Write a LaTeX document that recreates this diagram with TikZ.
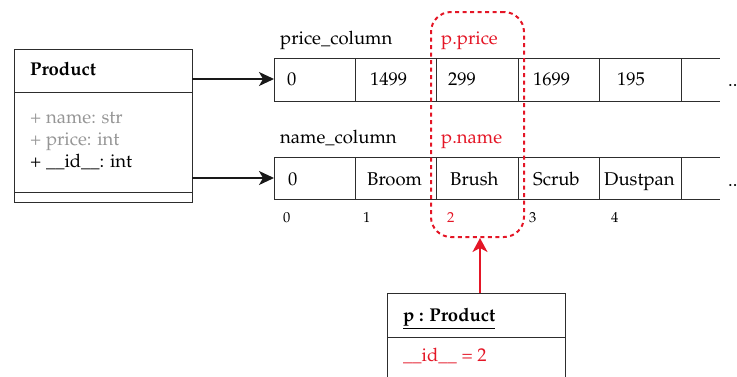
\documentclass[tikz,border=0pt]{standalone}
\usepackage[T1]{fontenc}
\usepackage{mathpazo}
\usetikzlibrary{arrows.meta}
\definecolor{accent}{RGB}{228,22,38}
\definecolor{muted}{RGB}{150,150,150}
\definecolor{edge}{RGB}{45,45,45}
\tikzset{
  txt/.style={inner sep=0pt, anchor=base west, font=\fontsize{18.5}{22}\selectfont},
  bold/.style={txt, font=\fontsize{18.5}{22}\selectfont\bfseries},
  idx/.style={inner sep=0pt, anchor=base west, font=\fontsize{14.5}{17}\selectfont},
  box/.style={draw=edge, line width=1pt, inner sep=0pt, outer sep=0pt},
  cell/.style={box, anchor=north west, minimum width=81.4pt},
  rule/.style={draw=edge, line width=1pt},
  link/.style={draw=black!90, line width=1.4pt, -{Stealth[length=15pt,width=14pt,inset=4pt]}},
  pick/.style={draw=accent, line width=2pt, dash pattern=on 4pt off 3.5pt, rounded corners=20pt},
  redlink/.style={draw=accent, line width=2pt, -{Stealth[length=14pt,width=15pt,inset=4pt]}}
}
\begin{document}
\begin{tikzpicture}[x=1pt,y=-1pt]
\useasboundingbox (0,0) rectangle (737,376);
\clip (0,0) rectangle (737,376);

% class box
\node[box, anchor=north west, minimum width=178pt, minimum height=153pt] (cls) at (14,49) {};
\draw[rule] (14,92) -- (192,92);
\draw[rule] (14,192) -- (192,192);
\node[bold] (clsname) at (30,75) {Product};
\node[txt, text=muted] (a1) at (30,123) {+ name: str};
\node[txt, text=muted] (a2) at (30,145) {+ price: int};
\node[txt] (a3) at (30,167) {+ \_\_id\_\_: int};

% price column
\node[txt] (plabel) at (280,44) {price\_column};
\node[txt, text=accent] (pprice) at (441,44) {p.price};
\foreach \i in {0,...,4}
  \node[cell, minimum height=43pt] (pc\i) at (274+81.4*\i,58) {};
\coordinate (pend) at (720,58);
\draw[rule] (pc4.north east) -- (pend) (pc4.south east) -- (pend |- pc4.south);
\node[txt] at (287,85) {0};
\node[txt] at (370,85) {1499};
\node[txt] at (448,85) {299};
\node[txt] at (533,85) {1699};
\node[txt] at (617,85) {195};
\node[txt] (pdots) at (728,86) {..};

% name column
\node[txt] (nlabel) at (280,143) {name\_column};
\node[txt, text=accent] (pname) at (441,143) {p.name};
\foreach \i in {0,...,4}
  \node[cell, minimum height=42pt] (nc\i) at (274+81.4*\i,157) {};
\coordinate (nend) at (720,157);
\draw[rule] (nc4.north east) -- (nend) (nc4.south east) -- (nend |- nc4.south);
\node[txt] at (288,185) {0};
\node[txt] at (367,185) {Broom};
\node[txt] at (450,185) {Brush};
\node[txt] at (533,185) {Scrub};
\node[txt] at (604,185) {Dustpan};
\node[txt] (ndots) at (728,186) {..};

% indices
\node[idx] at (283,222) {0};
\node[idx] at (363,222) {1};
\node[idx, text=accent] at (447,222) {2};
\node[idx] at (529,222) {3};
\node[idx] at (611,222) {4};

% references from the class
\coordinate (c1) at (192,79);
\coordinate (c2) at (192,178);
\draw[link] (c1) -- (c1 -| pc0.west);
\draw[link] (c2) -- (c2 -| nc0.west);

% selected row
\node[pick, anchor=north west, minimum width=93pt, minimum height=225pt] (sel) at (430,11) {};

% instance box
\node[box, anchor=north west, minimum width=178pt, minimum height=120pt] (inst) at (387,293) {};
\draw[rule] (387,337) -- (565,337);
\node[bold] (instname) at (403,321) {\underline{p : Product}};
\node[txt, text=accent] (instid) at (403,361) {\_\_id\_\_ = 2};
\coordinate (up) at (480,293);
\draw[redlink] (up) -- (up |- sel.south);
\end{tikzpicture}
\end{document}
